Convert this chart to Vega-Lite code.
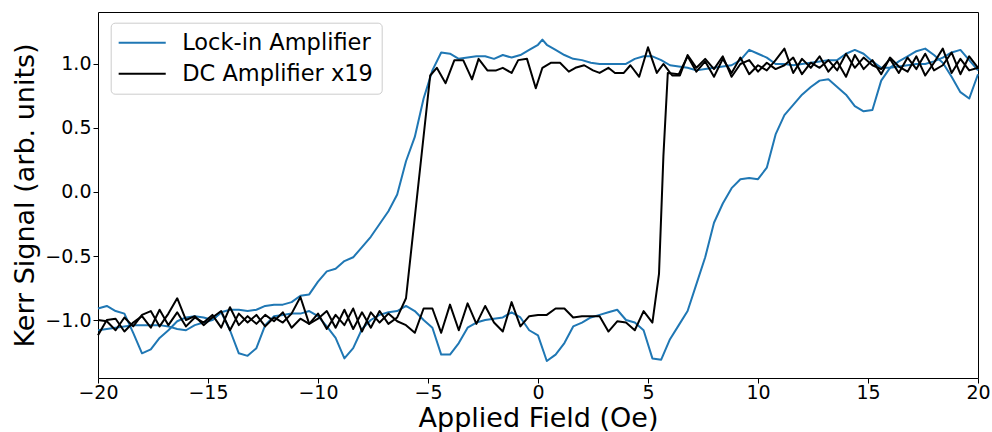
{
"$schema": "https://vega.github.io/schema/vega-lite/v6.json",
"width": 880, "height": 366,
"autosize": {"type": "none"},
"padding": {"left": 98, "top": 12, "right": 14, "bottom": 54},
"background": "#ffffff",
"config": {
  "font": "DejaVu Sans",
  "view": {"stroke": "#000000", "strokeWidth": 1},
  "axis": {"labelFont": "DejaVu Sans", "titleFont": "DejaVu Sans", "labelFontSize": 19, "titleFontSize": 27, "titleFontWeight": "normal", "labelColor": "#000000", "titleColor": "#000000", "tickColor": "#000000", "tickSize": 5, "tickWidth": 1, "grid": false, "domain": false, "labelOverlap": false}
},
"datasets": {
"lockin": [
{"x":-20,"y":-0.91,"series":"Lock-in Amplifier","sweep":"up"},{"x":-19.6,"y":-0.89,"series":"Lock-in Amplifier","sweep":"up"},{"x":-19.2,"y":-0.93,"series":"Lock-in Amplifier","sweep":"up"},{"x":-18.8,"y":-0.95,"series":"Lock-in Amplifier","sweep":"up"},{"x":-18.4,"y":-1.10,"series":"Lock-in Amplifier","sweep":"up"},{"x":-18,"y":-1.26,"series":"Lock-in Amplifier","sweep":"up"},{"x":-17.6,"y":-1.23,"series":"Lock-in Amplifier","sweep":"up"},{"x":-17.2,"y":-1.14,"series":"Lock-in Amplifier","sweep":"up"},{"x":-16.8,"y":-1.08,"series":"Lock-in Amplifier","sweep":"up"},{"x":-16.4,"y":-1.01,"series":"Lock-in Amplifier","sweep":"up"},{"x":-16,"y":-0.98,"series":"Lock-in Amplifier","sweep":"up"},{"x":-15.6,"y":-0.97,"series":"Lock-in Amplifier","sweep":"up"},{"x":-15.2,"y":-0.98,"series":"Lock-in Amplifier","sweep":"up"},{"x":-14.8,"y":-1.00,"series":"Lock-in Amplifier","sweep":"up"},{"x":-14.4,"y":-0.94,"series":"Lock-in Amplifier","sweep":"up"},{"x":-14,"y":-1.08,"series":"Lock-in Amplifier","sweep":"up"},{"x":-13.6,"y":-1.26,"series":"Lock-in Amplifier","sweep":"up"},{"x":-13.2,"y":-1.28,"series":"Lock-in Amplifier","sweep":"up"},{"x":-12.8,"y":-1.22,"series":"Lock-in Amplifier","sweep":"up"},{"x":-12.4,"y":-1.04,"series":"Lock-in Amplifier","sweep":"up"},{"x":-12,"y":-0.97,"series":"Lock-in Amplifier","sweep":"up"},{"x":-11.6,"y":-0.96,"series":"Lock-in Amplifier","sweep":"up"},{"x":-11.2,"y":-0.95,"series":"Lock-in Amplifier","sweep":"up"},{"x":-10.8,"y":-0.95,"series":"Lock-in Amplifier","sweep":"up"},{"x":-10.4,"y":-0.93,"series":"Lock-in Amplifier","sweep":"up"},{"x":-10,"y":-0.97,"series":"Lock-in Amplifier","sweep":"up"},{"x":-9.6,"y":-1.05,"series":"Lock-in Amplifier","sweep":"up"},{"x":-9.2,"y":-1.14,"series":"Lock-in Amplifier","sweep":"up"},{"x":-8.8,"y":-1.30,"series":"Lock-in Amplifier","sweep":"up"},{"x":-8.4,"y":-1.22,"series":"Lock-in Amplifier","sweep":"up"},{"x":-8,"y":-1.07,"series":"Lock-in Amplifier","sweep":"up"},{"x":-7.6,"y":-1.00,"series":"Lock-in Amplifier","sweep":"up"},{"x":-7.2,"y":-0.96,"series":"Lock-in Amplifier","sweep":"up"},{"x":-6.8,"y":-0.94,"series":"Lock-in Amplifier","sweep":"up"},{"x":-6.4,"y":-0.93,"series":"Lock-in Amplifier","sweep":"up"},{"x":-6,"y":-0.89,"series":"Lock-in Amplifier","sweep":"up"},{"x":-5.6,"y":-0.93,"series":"Lock-in Amplifier","sweep":"up"},{"x":-5.2,"y":-1.00,"series":"Lock-in Amplifier","sweep":"up"},{"x":-4.8,"y":-1.06,"series":"Lock-in Amplifier","sweep":"up"},{"x":-4.4,"y":-1.27,"series":"Lock-in Amplifier","sweep":"up"},{"x":-4,"y":-1.27,"series":"Lock-in Amplifier","sweep":"up"},{"x":-3.6,"y":-1.18,"series":"Lock-in Amplifier","sweep":"up"},{"x":-3.2,"y":-1.06,"series":"Lock-in Amplifier","sweep":"up"},{"x":-2.8,"y":-1.02,"series":"Lock-in Amplifier","sweep":"up"},{"x":-2.4,"y":-1.00,"series":"Lock-in Amplifier","sweep":"up"},{"x":-2,"y":-0.99,"series":"Lock-in Amplifier","sweep":"up"},{"x":-1.6,"y":-0.98,"series":"Lock-in Amplifier","sweep":"up"},{"x":-1.2,"y":-0.94,"series":"Lock-in Amplifier","sweep":"up"},{"x":-0.8,"y":-0.98,"series":"Lock-in Amplifier","sweep":"up"},{"x":-0.4,"y":-1.08,"series":"Lock-in Amplifier","sweep":"up"},{"x":0,"y":-1.12,"series":"Lock-in Amplifier","sweep":"up"},{"x":0.4,"y":-1.32,"series":"Lock-in Amplifier","sweep":"up"},{"x":0.8,"y":-1.27,"series":"Lock-in Amplifier","sweep":"up"},{"x":1.2,"y":-1.18,"series":"Lock-in Amplifier","sweep":"up"},{"x":1.6,"y":-1.05,"series":"Lock-in Amplifier","sweep":"up"},{"x":2,"y":-1.02,"series":"Lock-in Amplifier","sweep":"up"},{"x":2.4,"y":-0.98,"series":"Lock-in Amplifier","sweep":"up"},{"x":2.8,"y":-0.96,"series":"Lock-in Amplifier","sweep":"up"},{"x":3.2,"y":-0.94,"series":"Lock-in Amplifier","sweep":"up"},{"x":3.6,"y":-0.92,"series":"Lock-in Amplifier","sweep":"up"},{"x":4,"y":-1.00,"series":"Lock-in Amplifier","sweep":"up"},{"x":4.4,"y":-1.02,"series":"Lock-in Amplifier","sweep":"up"},{"x":4.8,"y":-1.08,"series":"Lock-in Amplifier","sweep":"up"},{"x":5.2,"y":-1.30,"series":"Lock-in Amplifier","sweep":"up"},{"x":5.6,"y":-1.31,"series":"Lock-in Amplifier","sweep":"up"},{"x":6,"y":-1.15,"series":"Lock-in Amplifier","sweep":"up"},{"x":6.4,"y":-1.04,"series":"Lock-in Amplifier","sweep":"up"},{"x":6.8,"y":-0.93,"series":"Lock-in Amplifier","sweep":"up"},{"x":7.2,"y":-0.72,"series":"Lock-in Amplifier","sweep":"up"},{"x":7.6,"y":-0.51,"series":"Lock-in Amplifier","sweep":"up"},{"x":8,"y":-0.24,"series":"Lock-in Amplifier","sweep":"up"},{"x":8.4,"y":-0.09,"series":"Lock-in Amplifier","sweep":"up"},{"x":8.8,"y":0.03,"series":"Lock-in Amplifier","sweep":"up"},{"x":9.2,"y":0.10,"series":"Lock-in Amplifier","sweep":"up"},{"x":9.6,"y":0.11,"series":"Lock-in Amplifier","sweep":"up"},{"x":10,"y":0.10,"series":"Lock-in Amplifier","sweep":"up"},{"x":10.4,"y":0.19,"series":"Lock-in Amplifier","sweep":"up"},{"x":10.8,"y":0.45,"series":"Lock-in Amplifier","sweep":"up"},{"x":11.2,"y":0.60,"series":"Lock-in Amplifier","sweep":"up"},{"x":11.6,"y":0.68,"series":"Lock-in Amplifier","sweep":"up"},{"x":12,"y":0.76,"series":"Lock-in Amplifier","sweep":"up"},{"x":12.4,"y":0.82,"series":"Lock-in Amplifier","sweep":"up"},{"x":12.8,"y":0.87,"series":"Lock-in Amplifier","sweep":"up"},{"x":13.2,"y":0.88,"series":"Lock-in Amplifier","sweep":"up"},{"x":13.6,"y":0.82,"series":"Lock-in Amplifier","sweep":"up"},{"x":14,"y":0.76,"series":"Lock-in Amplifier","sweep":"up"},{"x":14.4,"y":0.67,"series":"Lock-in Amplifier","sweep":"up"},{"x":14.8,"y":0.63,"series":"Lock-in Amplifier","sweep":"up"},{"x":15.2,"y":0.64,"series":"Lock-in Amplifier","sweep":"up"},{"x":15.6,"y":0.87,"series":"Lock-in Amplifier","sweep":"up"},{"x":16,"y":0.97,"series":"Lock-in Amplifier","sweep":"up"},{"x":16.4,"y":1.02,"series":"Lock-in Amplifier","sweep":"up"},{"x":16.8,"y":1.06,"series":"Lock-in Amplifier","sweep":"up"},{"x":17.2,"y":1.10,"series":"Lock-in Amplifier","sweep":"up"},{"x":17.6,"y":1.12,"series":"Lock-in Amplifier","sweep":"up"},{"x":18,"y":1.07,"series":"Lock-in Amplifier","sweep":"up"},{"x":18.4,"y":1.01,"series":"Lock-in Amplifier","sweep":"up"},{"x":18.8,"y":0.90,"series":"Lock-in Amplifier","sweep":"up"},{"x":19.2,"y":0.78,"series":"Lock-in Amplifier","sweep":"up"},{"x":19.6,"y":0.73,"series":"Lock-in Amplifier","sweep":"up"},{"x":20,"y":0.92,"series":"Lock-in Amplifier","sweep":"up"},
{"x":-20,"y":-1.08,"series":"Lock-in Amplifier","sweep":"down"},{"x":-19.6,"y":-1.07,"series":"Lock-in Amplifier","sweep":"down"},{"x":-19.2,"y":-1.06,"series":"Lock-in Amplifier","sweep":"down"},{"x":-18.8,"y":-1.05,"series":"Lock-in Amplifier","sweep":"down"},{"x":-18.4,"y":-1.04,"series":"Lock-in Amplifier","sweep":"down"},{"x":-18,"y":-1.04,"series":"Lock-in Amplifier","sweep":"down"},{"x":-17.6,"y":-1.04,"series":"Lock-in Amplifier","sweep":"down"},{"x":-17.2,"y":-1.04,"series":"Lock-in Amplifier","sweep":"down"},{"x":-16.8,"y":-1.05,"series":"Lock-in Amplifier","sweep":"down"},{"x":-16.4,"y":-1.07,"series":"Lock-in Amplifier","sweep":"down"},{"x":-16,"y":-1.08,"series":"Lock-in Amplifier","sweep":"down"},{"x":-15.6,"y":-1.04,"series":"Lock-in Amplifier","sweep":"down"},{"x":-15.2,"y":-1.02,"series":"Lock-in Amplifier","sweep":"down"},{"x":-14.8,"y":-1.00,"series":"Lock-in Amplifier","sweep":"down"},{"x":-14.4,"y":-0.94,"series":"Lock-in Amplifier","sweep":"down"},{"x":-14,"y":-0.92,"series":"Lock-in Amplifier","sweep":"down"},{"x":-13.6,"y":-0.92,"series":"Lock-in Amplifier","sweep":"down"},{"x":-13.2,"y":-0.93,"series":"Lock-in Amplifier","sweep":"down"},{"x":-12.8,"y":-0.92,"series":"Lock-in Amplifier","sweep":"down"},{"x":-12.4,"y":-0.89,"series":"Lock-in Amplifier","sweep":"down"},{"x":-12,"y":-0.88,"series":"Lock-in Amplifier","sweep":"down"},{"x":-11.6,"y":-0.88,"series":"Lock-in Amplifier","sweep":"down"},{"x":-11.2,"y":-0.86,"series":"Lock-in Amplifier","sweep":"down"},{"x":-10.8,"y":-0.81,"series":"Lock-in Amplifier","sweep":"down"},{"x":-10.4,"y":-0.80,"series":"Lock-in Amplifier","sweep":"down"},{"x":-10,"y":-0.70,"series":"Lock-in Amplifier","sweep":"down"},{"x":-9.6,"y":-0.62,"series":"Lock-in Amplifier","sweep":"down"},{"x":-9.2,"y":-0.60,"series":"Lock-in Amplifier","sweep":"down"},{"x":-8.8,"y":-0.54,"series":"Lock-in Amplifier","sweep":"down"},{"x":-8.4,"y":-0.51,"series":"Lock-in Amplifier","sweep":"down"},{"x":-8,"y":-0.43,"series":"Lock-in Amplifier","sweep":"down"},{"x":-7.6,"y":-0.35,"series":"Lock-in Amplifier","sweep":"down"},{"x":-7.2,"y":-0.25,"series":"Lock-in Amplifier","sweep":"down"},{"x":-6.8,"y":-0.15,"series":"Lock-in Amplifier","sweep":"down"},{"x":-6.4,"y":-0.02,"series":"Lock-in Amplifier","sweep":"down"},{"x":-6,"y":0.24,"series":"Lock-in Amplifier","sweep":"down"},{"x":-5.6,"y":0.43,"series":"Lock-in Amplifier","sweep":"down"},{"x":-5.2,"y":0.73,"series":"Lock-in Amplifier","sweep":"down"},{"x":-4.8,"y":0.95,"series":"Lock-in Amplifier","sweep":"down"},{"x":-4.4,"y":1.09,"series":"Lock-in Amplifier","sweep":"down"},{"x":-4,"y":1.08,"series":"Lock-in Amplifier","sweep":"down"},{"x":-3.6,"y":1.04,"series":"Lock-in Amplifier","sweep":"down"},{"x":-3.2,"y":1.05,"series":"Lock-in Amplifier","sweep":"down"},{"x":-2.8,"y":1.06,"series":"Lock-in Amplifier","sweep":"down"},{"x":-2.4,"y":1.06,"series":"Lock-in Amplifier","sweep":"down"},{"x":-2,"y":1.04,"series":"Lock-in Amplifier","sweep":"down"},{"x":-1.6,"y":1.07,"series":"Lock-in Amplifier","sweep":"down"},{"x":-1.2,"y":1.05,"series":"Lock-in Amplifier","sweep":"down"},{"x":-0.8,"y":1.07,"series":"Lock-in Amplifier","sweep":"down"},{"x":-0.4,"y":1.11,"series":"Lock-in Amplifier","sweep":"down"},{"x":0,"y":1.15,"series":"Lock-in Amplifier","sweep":"down"},{"x":0.2,"y":1.19,"series":"Lock-in Amplifier","sweep":"down"},{"x":0.4,"y":1.15,"series":"Lock-in Amplifier","sweep":"down"},{"x":0.8,"y":1.11,"series":"Lock-in Amplifier","sweep":"down"},{"x":1.2,"y":1.07,"series":"Lock-in Amplifier","sweep":"down"},{"x":1.6,"y":1.04,"series":"Lock-in Amplifier","sweep":"down"},{"x":2,"y":1.03,"series":"Lock-in Amplifier","sweep":"down"},{"x":2.4,"y":1.01,"series":"Lock-in Amplifier","sweep":"down"},{"x":2.8,"y":1.00,"series":"Lock-in Amplifier","sweep":"down"},{"x":3.2,"y":1.00,"series":"Lock-in Amplifier","sweep":"down"},{"x":3.6,"y":1.00,"series":"Lock-in Amplifier","sweep":"down"},{"x":4,"y":1.00,"series":"Lock-in Amplifier","sweep":"down"},{"x":4.4,"y":1.04,"series":"Lock-in Amplifier","sweep":"down"},{"x":4.8,"y":1.06,"series":"Lock-in Amplifier","sweep":"down"},{"x":5.2,"y":1.06,"series":"Lock-in Amplifier","sweep":"down"},{"x":5.6,"y":1.03,"series":"Lock-in Amplifier","sweep":"down"},{"x":6,"y":0.99,"series":"Lock-in Amplifier","sweep":"down"},{"x":6.4,"y":0.98,"series":"Lock-in Amplifier","sweep":"down"},{"x":6.8,"y":0.97,"series":"Lock-in Amplifier","sweep":"down"},{"x":7.2,"y":0.95,"series":"Lock-in Amplifier","sweep":"down"},{"x":7.6,"y":0.96,"series":"Lock-in Amplifier","sweep":"down"},{"x":8,"y":0.97,"series":"Lock-in Amplifier","sweep":"down"},{"x":8.4,"y":0.98,"series":"Lock-in Amplifier","sweep":"down"},{"x":8.8,"y":0.99,"series":"Lock-in Amplifier","sweep":"down"},{"x":9.2,"y":1.03,"series":"Lock-in Amplifier","sweep":"down"},{"x":9.6,"y":1.11,"series":"Lock-in Amplifier","sweep":"down"},{"x":10,"y":1.08,"series":"Lock-in Amplifier","sweep":"down"},{"x":10.4,"y":1.05,"series":"Lock-in Amplifier","sweep":"down"},{"x":10.8,"y":1.00,"series":"Lock-in Amplifier","sweep":"down"},{"x":11.2,"y":1.00,"series":"Lock-in Amplifier","sweep":"down"},{"x":11.6,"y":0.99,"series":"Lock-in Amplifier","sweep":"down"},{"x":12,"y":1.00,"series":"Lock-in Amplifier","sweep":"down"},{"x":12.4,"y":1.01,"series":"Lock-in Amplifier","sweep":"down"},{"x":12.8,"y":1.02,"series":"Lock-in Amplifier","sweep":"down"},{"x":13.2,"y":1.03,"series":"Lock-in Amplifier","sweep":"down"},{"x":13.6,"y":1.03,"series":"Lock-in Amplifier","sweep":"down"},{"x":14,"y":1.08,"series":"Lock-in Amplifier","sweep":"down"},{"x":14.4,"y":1.11,"series":"Lock-in Amplifier","sweep":"down"},{"x":14.8,"y":1.08,"series":"Lock-in Amplifier","sweep":"down"},{"x":15.2,"y":1.02,"series":"Lock-in Amplifier","sweep":"down"},{"x":15.6,"y":0.97,"series":"Lock-in Amplifier","sweep":"down"},{"x":16,"y":0.97,"series":"Lock-in Amplifier","sweep":"down"},{"x":16.4,"y":0.98,"series":"Lock-in Amplifier","sweep":"down"},{"x":16.8,"y":0.99,"series":"Lock-in Amplifier","sweep":"down"},{"x":17.2,"y":1.00,"series":"Lock-in Amplifier","sweep":"down"},{"x":17.6,"y":1.00,"series":"Lock-in Amplifier","sweep":"down"},{"x":18,"y":1.02,"series":"Lock-in Amplifier","sweep":"down"},{"x":18.4,"y":1.05,"series":"Lock-in Amplifier","sweep":"down"},{"x":18.8,"y":1.09,"series":"Lock-in Amplifier","sweep":"down"},{"x":19.2,"y":1.11,"series":"Lock-in Amplifier","sweep":"down"},{"x":19.6,"y":1.03,"series":"Lock-in Amplifier","sweep":"down"},{"x":20,"y":0.95,"series":"Lock-in Amplifier","sweep":"down"}
],
"dc": [
{"x":-20,"y":-1.12,"series":"DC Amplifier x19","sweep":"up"},{"x":-19.6,"y":-1.00,"series":"DC Amplifier x19","sweep":"up"},{"x":-19.2,"y":-0.99,"series":"DC Amplifier x19","sweep":"up"},{"x":-18.8,"y":-1.09,"series":"DC Amplifier x19","sweep":"up"},{"x":-18.4,"y":-1.02,"series":"DC Amplifier x19","sweep":"up"},{"x":-18,"y":-0.97,"series":"DC Amplifier x19","sweep":"up"},{"x":-17.6,"y":-1.06,"series":"DC Amplifier x19","sweep":"up"},{"x":-17.2,"y":-0.92,"series":"DC Amplifier x19","sweep":"up"},{"x":-16.8,"y":-1.04,"series":"DC Amplifier x19","sweep":"up"},{"x":-16.4,"y":-0.94,"series":"DC Amplifier x19","sweep":"up"},{"x":-16,"y":-1.05,"series":"DC Amplifier x19","sweep":"up"},{"x":-15.6,"y":-0.98,"series":"DC Amplifier x19","sweep":"up"},{"x":-15.2,"y":-1.02,"series":"DC Amplifier x19","sweep":"up"},{"x":-14.8,"y":-0.96,"series":"DC Amplifier x19","sweep":"up"},{"x":-14.4,"y":-1.06,"series":"DC Amplifier x19","sweep":"up"},{"x":-14,"y":-0.90,"series":"DC Amplifier x19","sweep":"up"},{"x":-13.6,"y":-1.04,"series":"DC Amplifier x19","sweep":"up"},{"x":-13.2,"y":-0.97,"series":"DC Amplifier x19","sweep":"up"},{"x":-12.8,"y":-1.03,"series":"DC Amplifier x19","sweep":"up"},{"x":-12.4,"y":-0.96,"series":"DC Amplifier x19","sweep":"up"},{"x":-12,"y":-1.01,"series":"DC Amplifier x19","sweep":"up"},{"x":-11.6,"y":-0.94,"series":"DC Amplifier x19","sweep":"up"},{"x":-11.2,"y":-1.06,"series":"DC Amplifier x19","sweep":"up"},{"x":-10.8,"y":-0.99,"series":"DC Amplifier x19","sweep":"up"},{"x":-10.4,"y":-1.03,"series":"DC Amplifier x19","sweep":"up"},{"x":-10,"y":-0.95,"series":"DC Amplifier x19","sweep":"up"},{"x":-9.6,"y":-1.07,"series":"DC Amplifier x19","sweep":"up"},{"x":-9.2,"y":-0.96,"series":"DC Amplifier x19","sweep":"up"},{"x":-8.8,"y":-1.04,"series":"DC Amplifier x19","sweep":"up"},{"x":-8.4,"y":-0.91,"series":"DC Amplifier x19","sweep":"up"},{"x":-8,"y":-1.09,"series":"DC Amplifier x19","sweep":"up"},{"x":-7.6,"y":-0.94,"series":"DC Amplifier x19","sweep":"up"},{"x":-7.2,"y":-1.02,"series":"DC Amplifier x19","sweep":"up"},{"x":-6.8,"y":-0.95,"series":"DC Amplifier x19","sweep":"up"},{"x":-6.4,"y":-1.01,"series":"DC Amplifier x19","sweep":"up"},{"x":-6,"y":-1.04,"series":"DC Amplifier x19","sweep":"up"},{"x":-5.6,"y":-1.10,"series":"DC Amplifier x19","sweep":"up"},{"x":-5.2,"y":-0.91,"series":"DC Amplifier x19","sweep":"up"},{"x":-4.8,"y":-0.91,"series":"DC Amplifier x19","sweep":"up"},{"x":-4.4,"y":-1.10,"series":"DC Amplifier x19","sweep":"up"},{"x":-4,"y":-0.88,"series":"DC Amplifier x19","sweep":"up"},{"x":-3.6,"y":-1.08,"series":"DC Amplifier x19","sweep":"up"},{"x":-3.2,"y":-0.87,"series":"DC Amplifier x19","sweep":"up"},{"x":-2.8,"y":-1.03,"series":"DC Amplifier x19","sweep":"up"},{"x":-2.4,"y":-0.89,"series":"DC Amplifier x19","sweep":"up"},{"x":-2,"y":-1.02,"series":"DC Amplifier x19","sweep":"up"},{"x":-1.6,"y":-1.09,"series":"DC Amplifier x19","sweep":"up"},{"x":-1.2,"y":-0.86,"series":"DC Amplifier x19","sweep":"up"},{"x":-0.8,"y":-1.05,"series":"DC Amplifier x19","sweep":"up"},{"x":-0.4,"y":-0.97,"series":"DC Amplifier x19","sweep":"up"},{"x":0,"y":-0.96,"series":"DC Amplifier x19","sweep":"up"},{"x":0.4,"y":-0.96,"series":"DC Amplifier x19","sweep":"up"},{"x":0.8,"y":-0.91,"series":"DC Amplifier x19","sweep":"up"},{"x":1.2,"y":-0.91,"series":"DC Amplifier x19","sweep":"up"},{"x":1.6,"y":-0.98,"series":"DC Amplifier x19","sweep":"up"},{"x":2,"y":-0.97,"series":"DC Amplifier x19","sweep":"up"},{"x":2.4,"y":-0.97,"series":"DC Amplifier x19","sweep":"up"},{"x":2.8,"y":-0.97,"series":"DC Amplifier x19","sweep":"up"},{"x":3.2,"y":-1.09,"series":"DC Amplifier x19","sweep":"up"},{"x":3.6,"y":-1.01,"series":"DC Amplifier x19","sweep":"up"},{"x":4,"y":-1.02,"series":"DC Amplifier x19","sweep":"up"},{"x":4.4,"y":-1.08,"series":"DC Amplifier x19","sweep":"up"},{"x":4.8,"y":-0.93,"series":"DC Amplifier x19","sweep":"up"},{"x":5.2,"y":-1.02,"series":"DC Amplifier x19","sweep":"up"},{"x":5.5,"y":-0.64,"series":"DC Amplifier x19","sweep":"up"},{"x":5.7,"y":0.28,"series":"DC Amplifier x19","sweep":"up"},{"x":5.9,"y":0.93,"series":"DC Amplifier x19","sweep":"up"},{"x":6.4,"y":0.92,"series":"DC Amplifier x19","sweep":"up"},{"x":6.8,"y":1.06,"series":"DC Amplifier x19","sweep":"up"},{"x":7.2,"y":0.94,"series":"DC Amplifier x19","sweep":"up"},{"x":7.6,"y":1.02,"series":"DC Amplifier x19","sweep":"up"},{"x":8,"y":0.90,"series":"DC Amplifier x19","sweep":"up"},{"x":8.4,"y":1.04,"series":"DC Amplifier x19","sweep":"up"},{"x":8.8,"y":0.93,"series":"DC Amplifier x19","sweep":"up"},{"x":9.2,"y":1.05,"series":"DC Amplifier x19","sweep":"up"},{"x":9.6,"y":0.92,"series":"DC Amplifier x19","sweep":"up"},{"x":10,"y":0.99,"series":"DC Amplifier x19","sweep":"up"},{"x":10.4,"y":0.95,"series":"DC Amplifier x19","sweep":"up"},{"x":10.8,"y":1.03,"series":"DC Amplifier x19","sweep":"up"},{"x":11.2,"y":1.12,"series":"DC Amplifier x19","sweep":"up"},{"x":11.6,"y":0.93,"series":"DC Amplifier x19","sweep":"up"},{"x":12,"y":1.04,"series":"DC Amplifier x19","sweep":"up"},{"x":12.4,"y":0.97,"series":"DC Amplifier x19","sweep":"up"},{"x":12.8,"y":1.06,"series":"DC Amplifier x19","sweep":"up"},{"x":13.2,"y":0.94,"series":"DC Amplifier x19","sweep":"up"},{"x":13.6,"y":1.02,"series":"DC Amplifier x19","sweep":"up"},{"x":14,"y":0.90,"series":"DC Amplifier x19","sweep":"up"},{"x":14.4,"y":1.07,"series":"DC Amplifier x19","sweep":"up"},{"x":14.8,"y":0.96,"series":"DC Amplifier x19","sweep":"up"},{"x":15.2,"y":1.03,"series":"DC Amplifier x19","sweep":"up"},{"x":15.6,"y":0.92,"series":"DC Amplifier x19","sweep":"up"},{"x":16,"y":1.05,"series":"DC Amplifier x19","sweep":"up"},{"x":16.4,"y":0.98,"series":"DC Amplifier x19","sweep":"up"},{"x":16.8,"y":0.94,"series":"DC Amplifier x19","sweep":"up"},{"x":17.2,"y":1.06,"series":"DC Amplifier x19","sweep":"up"},{"x":17.6,"y":0.91,"series":"DC Amplifier x19","sweep":"up"},{"x":18,"y":1.01,"series":"DC Amplifier x19","sweep":"up"},{"x":18.4,"y":1.12,"series":"DC Amplifier x19","sweep":"up"},{"x":18.8,"y":0.93,"series":"DC Amplifier x19","sweep":"up"},{"x":19.2,"y":1.04,"series":"DC Amplifier x19","sweep":"up"},{"x":19.6,"y":0.95,"series":"DC Amplifier x19","sweep":"up"},{"x":20,"y":0.97,"series":"DC Amplifier x19","sweep":"up"},
{"x":-20,"y":-1.00,"series":"DC Amplifier x19","sweep":"down"},{"x":-19.6,"y":-1.01,"series":"DC Amplifier x19","sweep":"down"},{"x":-19.2,"y":-1.08,"series":"DC Amplifier x19","sweep":"down"},{"x":-18.8,"y":-0.98,"series":"DC Amplifier x19","sweep":"down"},{"x":-18.4,"y":-1.05,"series":"DC Amplifier x19","sweep":"down"},{"x":-18,"y":-0.96,"series":"DC Amplifier x19","sweep":"down"},{"x":-17.6,"y":-0.93,"series":"DC Amplifier x19","sweep":"down"},{"x":-17.2,"y":-1.05,"series":"DC Amplifier x19","sweep":"down"},{"x":-16.8,"y":-0.95,"series":"DC Amplifier x19","sweep":"down"},{"x":-16.4,"y":-0.83,"series":"DC Amplifier x19","sweep":"down"},{"x":-16,"y":-1.00,"series":"DC Amplifier x19","sweep":"down"},{"x":-15.6,"y":-0.97,"series":"DC Amplifier x19","sweep":"down"},{"x":-15.2,"y":-1.04,"series":"DC Amplifier x19","sweep":"down"},{"x":-14.8,"y":-0.98,"series":"DC Amplifier x19","sweep":"down"},{"x":-14.4,"y":-0.93,"series":"DC Amplifier x19","sweep":"down"},{"x":-14,"y":-1.08,"series":"DC Amplifier x19","sweep":"down"},{"x":-13.6,"y":-0.95,"series":"DC Amplifier x19","sweep":"down"},{"x":-13.2,"y":-1.02,"series":"DC Amplifier x19","sweep":"down"},{"x":-12.8,"y":-0.96,"series":"DC Amplifier x19","sweep":"down"},{"x":-12.4,"y":-1.05,"series":"DC Amplifier x19","sweep":"down"},{"x":-12,"y":-0.98,"series":"DC Amplifier x19","sweep":"down"},{"x":-11.6,"y":-1.02,"series":"DC Amplifier x19","sweep":"down"},{"x":-11.2,"y":-0.95,"series":"DC Amplifier x19","sweep":"down"},{"x":-10.8,"y":-0.82,"series":"DC Amplifier x19","sweep":"down"},{"x":-10.4,"y":-1.03,"series":"DC Amplifier x19","sweep":"down"},{"x":-10,"y":-0.99,"series":"DC Amplifier x19","sweep":"down"},{"x":-9.6,"y":-0.93,"series":"DC Amplifier x19","sweep":"down"},{"x":-9.2,"y":-1.06,"series":"DC Amplifier x19","sweep":"down"},{"x":-8.8,"y":-0.92,"series":"DC Amplifier x19","sweep":"down"},{"x":-8.4,"y":-1.07,"series":"DC Amplifier x19","sweep":"down"},{"x":-8,"y":-0.94,"series":"DC Amplifier x19","sweep":"down"},{"x":-7.6,"y":-1.06,"series":"DC Amplifier x19","sweep":"down"},{"x":-7.2,"y":-0.93,"series":"DC Amplifier x19","sweep":"down"},{"x":-6.8,"y":-1.03,"series":"DC Amplifier x19","sweep":"down"},{"x":-6.4,"y":-0.98,"series":"DC Amplifier x19","sweep":"down"},{"x":-6,"y":-0.83,"series":"DC Amplifier x19","sweep":"down"},{"x":-4.9,"y":0.91,"series":"DC Amplifier x19","sweep":"down"},{"x":-4.6,"y":0.97,"series":"DC Amplifier x19","sweep":"down"},{"x":-4.2,"y":0.85,"series":"DC Amplifier x19","sweep":"down"},{"x":-3.8,"y":1.03,"series":"DC Amplifier x19","sweep":"down"},{"x":-3.4,"y":1.03,"series":"DC Amplifier x19","sweep":"down"},{"x":-3,"y":0.88,"series":"DC Amplifier x19","sweep":"down"},{"x":-2.7,"y":1.04,"series":"DC Amplifier x19","sweep":"down"},{"x":-2.3,"y":0.95,"series":"DC Amplifier x19","sweep":"down"},{"x":-1.9,"y":0.95,"series":"DC Amplifier x19","sweep":"down"},{"x":-1.6,"y":0.97,"series":"DC Amplifier x19","sweep":"down"},{"x":-1.2,"y":0.93,"series":"DC Amplifier x19","sweep":"down"},{"x":-0.9,"y":1.03,"series":"DC Amplifier x19","sweep":"down"},{"x":-0.5,"y":1.04,"series":"DC Amplifier x19","sweep":"down"},{"x":-0.1,"y":0.81,"series":"DC Amplifier x19","sweep":"down"},{"x":0.2,"y":0.97,"series":"DC Amplifier x19","sweep":"down"},{"x":0.6,"y":1.01,"series":"DC Amplifier x19","sweep":"down"},{"x":1,"y":1.01,"series":"DC Amplifier x19","sweep":"down"},{"x":1.4,"y":0.94,"series":"DC Amplifier x19","sweep":"down"},{"x":1.7,"y":0.97,"series":"DC Amplifier x19","sweep":"down"},{"x":2.1,"y":0.99,"series":"DC Amplifier x19","sweep":"down"},{"x":2.5,"y":0.95,"series":"DC Amplifier x19","sweep":"down"},{"x":2.8,"y":0.93,"series":"DC Amplifier x19","sweep":"down"},{"x":3.2,"y":0.97,"series":"DC Amplifier x19","sweep":"down"},{"x":3.5,"y":0.93,"series":"DC Amplifier x19","sweep":"down"},{"x":3.9,"y":0.93,"series":"DC Amplifier x19","sweep":"down"},{"x":4.2,"y":0.99,"series":"DC Amplifier x19","sweep":"down"},{"x":4.6,"y":0.90,"series":"DC Amplifier x19","sweep":"down"},{"x":5,"y":1.13,"series":"DC Amplifier x19","sweep":"down"},{"x":5.4,"y":0.93,"series":"DC Amplifier x19","sweep":"down"},{"x":5.7,"y":1.00,"series":"DC Amplifier x19","sweep":"down"},{"x":6.1,"y":0.91,"series":"DC Amplifier x19","sweep":"down"},{"x":6.45,"y":0.91,"series":"DC Amplifier x19","sweep":"down"},{"x":6.8,"y":1.07,"series":"DC Amplifier x19","sweep":"down"},{"x":7.2,"y":0.97,"series":"DC Amplifier x19","sweep":"down"},{"x":7.6,"y":1.04,"series":"DC Amplifier x19","sweep":"down"},{"x":8,"y":0.96,"series":"DC Amplifier x19","sweep":"down"},{"x":8.4,"y":1.06,"series":"DC Amplifier x19","sweep":"down"},{"x":8.8,"y":0.90,"series":"DC Amplifier x19","sweep":"down"},{"x":9.2,"y":1.00,"series":"DC Amplifier x19","sweep":"down"},{"x":9.6,"y":1.03,"series":"DC Amplifier x19","sweep":"down"},{"x":10,"y":0.94,"series":"DC Amplifier x19","sweep":"down"},{"x":10.4,"y":1.01,"series":"DC Amplifier x19","sweep":"down"},{"x":10.8,"y":0.96,"series":"DC Amplifier x19","sweep":"down"},{"x":11.2,"y":0.99,"series":"DC Amplifier x19","sweep":"down"},{"x":11.6,"y":1.05,"series":"DC Amplifier x19","sweep":"down"},{"x":12,"y":0.92,"series":"DC Amplifier x19","sweep":"down"},{"x":12.4,"y":1.01,"series":"DC Amplifier x19","sweep":"down"},{"x":12.8,"y":0.97,"series":"DC Amplifier x19","sweep":"down"},{"x":13.2,"y":1.03,"series":"DC Amplifier x19","sweep":"down"},{"x":13.6,"y":0.95,"series":"DC Amplifier x19","sweep":"down"},{"x":14,"y":1.08,"series":"DC Amplifier x19","sweep":"down"},{"x":14.4,"y":0.97,"series":"DC Amplifier x19","sweep":"down"},{"x":14.8,"y":1.05,"series":"DC Amplifier x19","sweep":"down"},{"x":15.2,"y":0.99,"series":"DC Amplifier x19","sweep":"down"},{"x":15.6,"y":0.96,"series":"DC Amplifier x19","sweep":"down"},{"x":16,"y":1.04,"series":"DC Amplifier x19","sweep":"down"},{"x":16.4,"y":0.93,"series":"DC Amplifier x19","sweep":"down"},{"x":16.8,"y":1.05,"series":"DC Amplifier x19","sweep":"down"},{"x":17.2,"y":0.96,"series":"DC Amplifier x19","sweep":"down"},{"x":17.6,"y":1.08,"series":"DC Amplifier x19","sweep":"down"},{"x":18,"y":0.95,"series":"DC Amplifier x19","sweep":"down"},{"x":18.4,"y":0.99,"series":"DC Amplifier x19","sweep":"down"},{"x":18.8,"y":1.09,"series":"DC Amplifier x19","sweep":"down"},{"x":19.2,"y":0.92,"series":"DC Amplifier x19","sweep":"down"},{"x":19.6,"y":1.06,"series":"DC Amplifier x19","sweep":"down"},{"x":20,"y":0.97,"series":"DC Amplifier x19","sweep":"down"}
]
},
"encoding": {
  "x": {"field": "x", "type": "quantitative", "scale": {"domain": [-20, 20], "nice": false}, "axis": {"title": "Applied Field (Oe)", "values": [-20, -15, -10, -5, 0, 5, 10, 15, 20], "format": "d", "labelPadding": 0, "titlePadding": 3, "labelFlush": false}},
  "y": {"field": "y", "type": "quantitative", "scale": {"domain": [-1.453, 1.406], "nice": false, "zero": false}, "axis": {"title": "Kerr Signal (arb. units)", "values": [-1, -0.5, 0, 0.5, 1], "format": ".1f", "labelPadding": 2, "titlePadding": 5}},
  "color": {"field": "series", "type": "nominal", "scale": {"domain": ["Lock-in Amplifier", "DC Amplifier x19"], "range": ["#1f77b4", "#000000"]},
    "legend": {"title": null, "orient": "none", "legendX": 12.7, "legendY": 10.7, "symbolType": "M-2.14,0H2.14", "symbolSize": 484, "symbolStrokeWidth": 2, "symbolOffset": 11.5, "labelOffset": 28, "labelFontSize": 22.5, "labelFont": "DejaVu Sans", "labelColor": "#000000", "labelLimit": 400, "padding": 8, "rowPadding": 7, "strokeColor": "#cccccc", "fillColor": "#ffffff", "cornerRadius": 4}},
  "detail": {"field": "sweep", "type": "nominal"}
},
"layer": [
  {"data": {"name": "lockin"}, "mark": {"type": "line", "strokeWidth": 2, "strokeJoin": "round"}},
  {"data": {"name": "dc"}, "mark": {"type": "line", "strokeWidth": 2, "strokeJoin": "round"}}
]
}
